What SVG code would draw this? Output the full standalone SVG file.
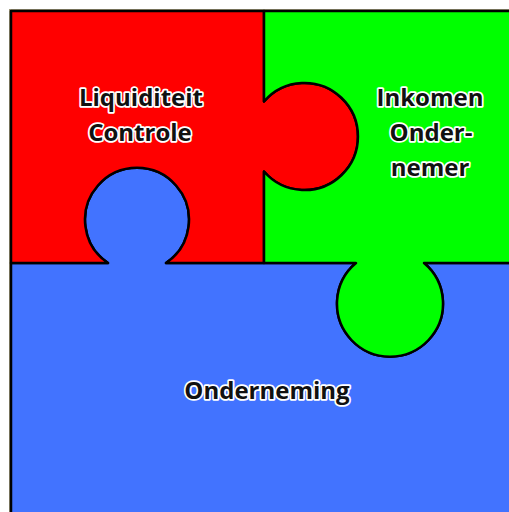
<svg xmlns="http://www.w3.org/2000/svg" width="509" height="512" viewBox="0 0 509 512">
<style>
.piece{stroke:#000;stroke-width:2.5;stroke-linejoin:round}
.lbl{font-family:"Open Sans","Liberation Sans",sans-serif;font-weight:bold;font-size:24px;fill:#111;stroke:#fff;stroke-width:3.5;stroke-linejoin:round;paint-order:stroke;text-anchor:middle}
</style>
<rect width="509" height="512" fill="#fff"/>
<rect x="9.5" y="9.5" width="520" height="520" fill="none" stroke="#9d9777" stroke-width="1"/>
<g id="onderneming">
<path class="piece" fill="#4273FF" d="M11,263 H108 A52,52 0 1 1 166,263 H356 A53,53 0 1 0 424,263 H530 V530 H11 Z"/>
<text class="lbl" x="267" y="399">Onderneming</text>
</g>
<g id="liquiditeit">
<path class="piece" fill="#FF0000" d="M11,11 H264 V101.5 A53.5,53.5 0 1 1 264,171.5 V263 H166 A52,52 0 1 0 108,263 H11 Z"/>
<text class="lbl" x="141" y="106">Liquiditeit</text>
<text class="lbl" x="140" y="141">Controle</text>
</g>
<g id="inkomen">
<path class="piece" fill="#00FF00" d="M264,11 H530 V263 H424 A53,53 0 1 1 356,263 H264 V171.5 A53.5,53.5 0 1 0 264,101.5 Z"/>
<text class="lbl" x="430" y="106">Inkomen</text>
<text class="lbl" x="431" y="141">Onder-</text>
<text class="lbl" x="430" y="176">nemer</text>
</g>
<g id="connectors"></g>
</svg>
